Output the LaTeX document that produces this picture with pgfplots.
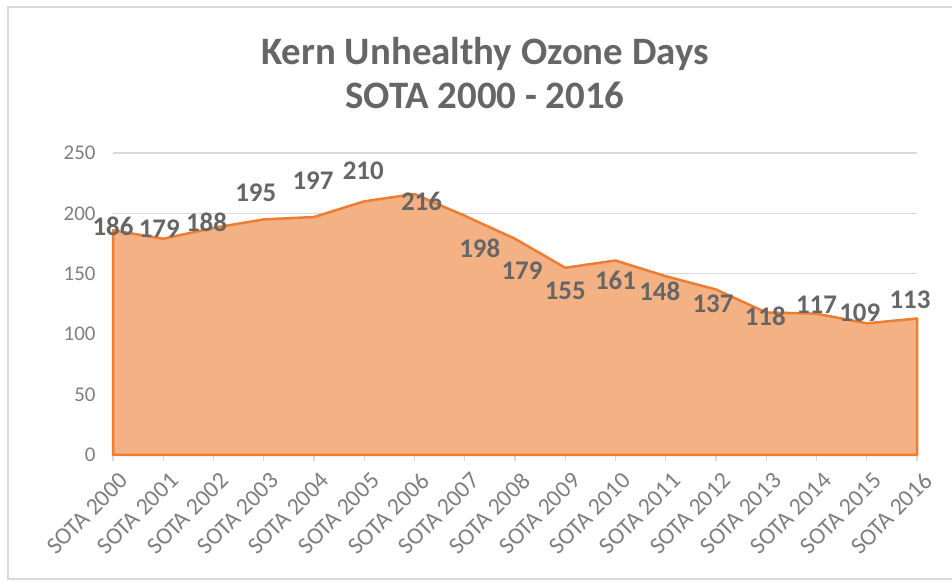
\documentclass[border=0pt]{standalone}
\usepackage{pgfplots}
\pgfplotsset{compat=1.18}
\usepackage{pgfplotstable}
\usepackage{fontspec}
\setmainfont{Carlito}
\definecolor{fillor}{HTML}{F4B183}
\definecolor{lineor}{HTML}{ED7D31}
\definecolor{txt}{HTML}{666666}
\definecolor{ticktxt}{HTML}{7F7F7F}
\definecolor{gridc}{HTML}{D9D9D9}
\pgfplotstableread{
x y dx dy
0 186 0 4
1 179 -4 10
2 188 -7 6
3 195 -8 27
4 197 -1 36
5 210 -1 31
6 216 7 -7
7 198 15 -33
8 179 7 -32
9 155 0 -23
10 161 0 -20
11 148 -6 -15
12 137 -3 -14
13 118 -1 -4
14 117 0 9
15 109 -7 11
16 113 -7 19
}\ozone
\begin{document}
\begin{tikzpicture}[x=1bp,y=1bp]
\useasboundingbox (0,0) rectangle (952,583);
\draw[gridc, line width=2bp] (952,576) -- (8,576) -- (8,4) -- (952,4);
\node[txt, anchor=base, font=\fontsize{39}{44}\selectfont\bfseries] at (485,518) {Kern Unhealthy Ozone Days};
\node[txt, anchor=base, font=\fontsize{39}{44}\selectfont\bfseries] at (485,474) {SOTA 2000 - 2016};
\begin{axis}[
  at={(113bp,128bp)}, anchor=south west,
  scale only axis, width=804bp, height=302bp,
  xmin=0, xmax=16, ymin=0, ymax=250,
  ytick={0,50,...,250},
  xtick={0,...,16},
  xticklabels={SOTA 2000,SOTA 2001,SOTA 2002,SOTA 2003,SOTA 2004,SOTA 2005,SOTA 2006,SOTA 2007,SOTA 2008,SOTA 2009,SOTA 2010,SOTA 2011,SOTA 2012,SOTA 2013,SOTA 2014,SOTA 2015,SOTA 2016},
  axis x line*=bottom, axis y line*=left,
  y axis line style={draw=none},
  x axis line style={gridc, line width=1.5bp, -},
  ymajorgrids, grid style={gridc, line width=1.2bp},
  ytick style={draw=none},
  xtick style={gridc, line width=1.2bp},
  tick align=outside, major tick length=6bp,
  /pgf/number format/assume math mode=true,
  yticklabel style={ticktxt, font=\fontsize{21}{24}\selectfont, xshift=-8bp},
  xticklabel style={ticktxt, font=\fontsize{24}{28}\selectfont, rotate=45, anchor=east, xshift=0bp, yshift=-19bp},
  clip=false,
]
\addplot[fill=fillor, draw=lineor, line width=2.5bp, line join=round,
  nodes near coords, point meta=explicit symbolic,
  visualization depends on={\thisrow{dx}\as\dx},
  visualization depends on={\thisrow{dy}\as\dy},
  every node near coord/.append style={anchor=center, txt, font=\fontsize{27}{30}\selectfont\bfseries, xshift=\dx bp, yshift=\dy bp},
] table[x=x, y=y, meta=y] {\ozone} \closedcycle;
\end{axis}
\end{tikzpicture}
\end{document}
